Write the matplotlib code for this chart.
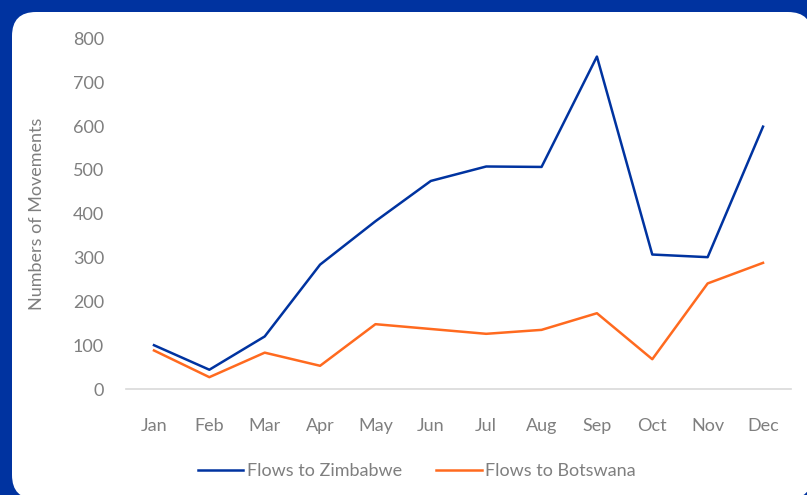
import matplotlib.pyplot as plt
from matplotlib.patches import FancyBboxPatch
from matplotlib.transforms import IdentityTransform

months = ["Jan", "Feb", "Mar", "Apr", "May", "Jun", "Jul", "Aug", "Sep", "Oct", "Nov", "Dec"]
zimbabwe = [100, 44, 120, 284, 383, 475, 508, 507, 759, 307, 301, 599]
botswana = [88, 27, 83, 53, 148, 137, 126, 135, 173, 68, 241, 288]

plt.rcParams["font.family"] = ["Lato", "DejaVu Sans"]
text_grey = "#7f7f7f"

W, H = 807, 495
fig = plt.figure(figsize=(W / 100, H / 100), dpi=100, facecolor="#0033a0")

# white card with rounded corners (pixel coordinates), kept behind the axes
card = FancyBboxPatch((12, -4), 800, 487, boxstyle="round,pad=0,rounding_size=24",
                      transform=IdentityTransform(), facecolor="white", edgecolor="none",
                      zorder=-10)
fig.add_artist(card)

ax = fig.add_axes([126.3 / W, 106 / H, 664.4 / W, 350.4 / H])
ax.set_facecolor("none")
x = range(len(months))
ax.plot(x, zimbabwe, color="#0033a0", linewidth=1.8, label="Flows to Zimbabwe")
ax.plot(x, botswana, color="#ff6a1f", linewidth=1.8, label="Flows to Botswana")

ax.set_xlim(-0.5, 11.5)
ax.set_ylim(0, 800)
ax.set_yticks(range(0, 801, 100))
ax.set_xticks(list(x))
ax.set_xticklabels(months)
for side in ["top", "right", "left"]:
    ax.spines[side].set_visible(False)
ax.spines["bottom"].set_color("#d9d9d9")
ax.spines["bottom"].set_linewidth(1.2)
ax.tick_params(length=0, labelsize=13, colors=text_grey)
ax.tick_params(axis="y", pad=16)
ax.tick_params(axis="x", pad=21)
ax.set_ylabel("Numbers of Movements", fontsize=13, color=text_grey, labelpad=20)

fig.legend(loc="center", bbox_to_anchor=(417 / W, 1 - 471 / H), ncols=2, frameon=False,
           fontsize=13, labelcolor=text_grey, handlelength=2.5, handletextpad=0.2,
           columnspacing=1.9)

fig.savefig("out.png", dpi=100, facecolor=fig.get_facecolor())
plt.close(fig)
